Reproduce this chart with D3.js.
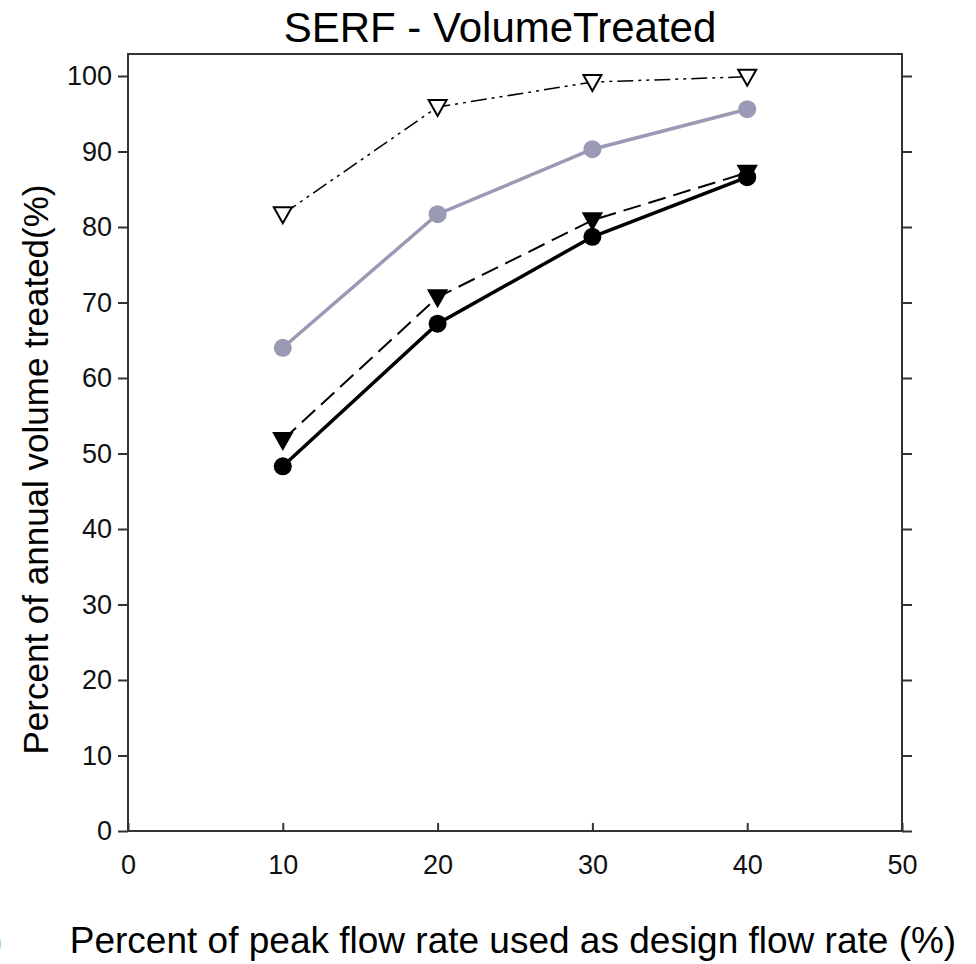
<!DOCTYPE html>
<html><head><meta charset="utf-8">
<script src="https://cdn.jsdelivr.net/npm/d3@7"></script>
<style>body{margin:0;background:#fff}</style></head>
<body><svg id="c" width="976" height="964"></svg>
<script>
const xVals=[10,20,30,40];
const openTri=[81.7,95.9,99.2,99.9];
const grayCirc=[64.0,81.7,90.3,95.6];
const filledTri=[51.8,70.7,80.9,87.2];
const blackCirc=[48.3,67.2,78.7,86.6];
const xTicks=[0,10,20,30,40,50];
const yTicks=[0,10,20,30,40,50,60,70,80,90,100];

const svg=d3.select("#c");
const L=128,R=902,T=54,B=831;
const x=d3.scaleLinear().domain([0,50]).range([L,R]);
const y=d3.scaleLinear().domain([0,100]).range([B,76]);
const font="Arial, 'Liberation Sans', sans-serif";
const axc="#333";

svg.append("rect").attr("x",L).attr("y",T).attr("width",R-L).attr("height",B-T).attr("fill","none").attr("stroke",axc).attr("stroke-width",2);

const gl=svg.append("g").attr("transform",`translate(${L},0)`).call(d3.axisLeft(y).tickValues(yTicks).tickSize(10).tickPadding(6));
const gb=svg.append("g").attr("transform",`translate(0,${B})`).call(d3.axisBottom(x).tickValues(xTicks).tickSize(-8).tickPadding(24));
const gr=svg.append("g").attr("transform",`translate(${R},0)`).call(d3.axisRight(y).tickValues(yTicks).tickSize(10).tickFormat(""));
[gl,gb,gr].forEach(g=>{g.select(".domain").remove();g.selectAll("line").attr("stroke",axc).attr("stroke-width",2);
 g.selectAll("text").attr("font-family",font).attr("font-size",27).attr("fill","#111");});

svg.append("text").attr("x",500).attr("y",42).attr("text-anchor","middle").attr("font-family",font).attr("font-size",42).text("SERF - VolumeTreated");
svg.append("text").attr("transform",`translate(48,${(76+B)/2+16}) rotate(-90)`).attr("text-anchor","middle").attr("font-family",font).attr("font-size",35).text("Percent of annual volume treated(%)");
svg.append("text").attr("x",513).attr("y",953).attr("text-anchor","middle").attr("font-family",font).attr("font-size",37).text("Percent of peak flow rate used as design flow rate (%)");
svg.append("text").attr("x",-8).attr("y",952).attr("font-family",font).attr("font-size",30).text(")");

const line=d3.line().x((d,i)=>x(xVals[i])).y(d=>y(d));
const series=[
 {v:openTri,c:"#000",w:1.5,dash:"16,5,3,5,3,5",m:"otri"},
 {v:grayCirc,c:"#9a9ab4",w:3.5,dash:null,m:"gcirc"},
 {v:filledTri,c:"#000",w:2,dash:"18,8",m:"ftri"},
 {v:blackCirc,c:"#000",w:3.5,dash:null,m:"bcirc"}];
series.forEach(s=>{
 svg.append("path").attr("d",line(s.v)).attr("fill","none").attr("stroke",s.c).attr("stroke-width",s.w).attr("stroke-dasharray",s.dash);
 s.v.forEach((d,i)=>{
  const cx=x(xVals[i]),cy=y(d);
  if(s.m==="gcirc"||s.m==="bcirc"){
   svg.append("circle").attr("cx",cx).attr("cy",cy).attr("r",9).attr("fill",s.c);
  } else {
   const p=d3.path();p.moveTo(cx-9,cy-7);p.lineTo(cx+9,cy-7);p.lineTo(cx,cy+9);p.closePath();
   svg.append("path").attr("d",p.toString()).attr("fill",s.m==="otri"?"#fff":"#000").attr("stroke","#000").attr("stroke-width",2);
  }
 });
});
</script></body></html>
